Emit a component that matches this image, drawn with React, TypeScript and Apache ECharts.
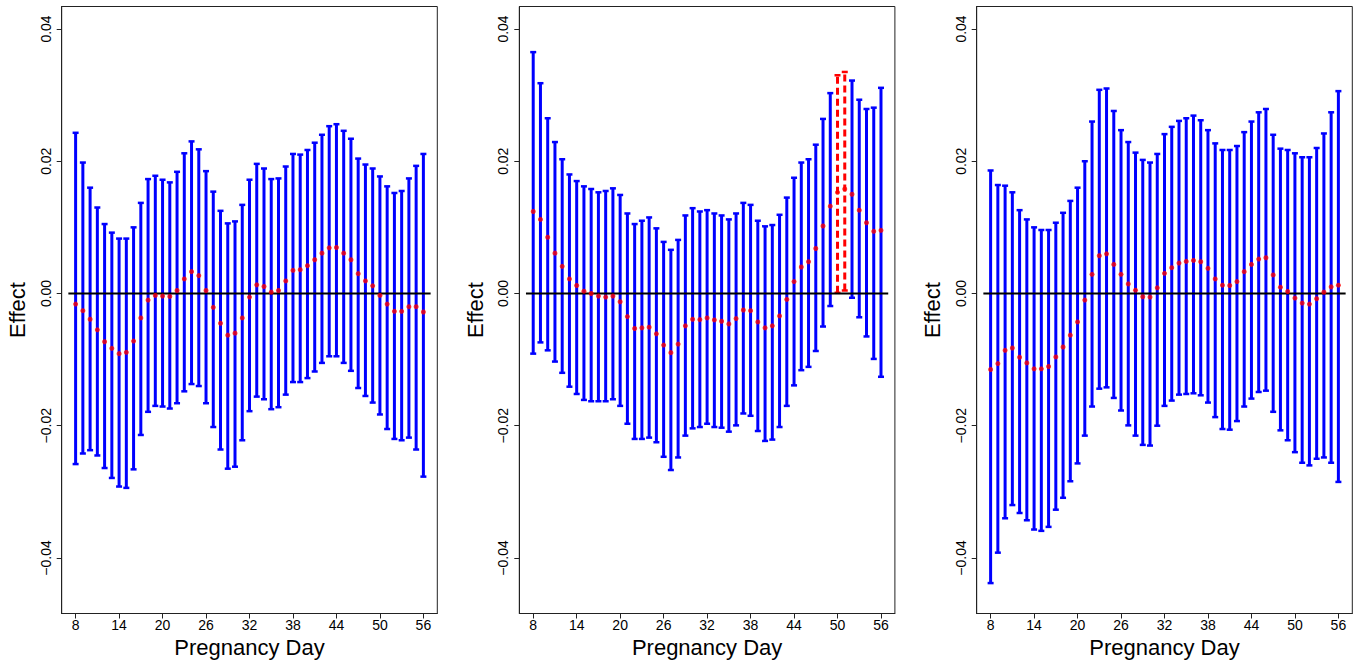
import React, { useEffect, useRef } from "react";
import * as echarts from "echarts";

// Pregnancy days (x categories)
const DAYS = [8, 9, 10, 11, 12, 13, 14, 15, 16, 17, 18, 19, 20, 21, 22, 23, 24, 25, 26, 27, 28, 29, 30, 31, 32,
  33, 34, 35, 36, 37, 38, 39, 40, 41, 42, 43, 44, 45, 46, 47, 48, 49, 50, 51, 52, 53, 54, 55, 56];

const X_TICKS = [8, 14, 20, 26, 32, 38, 44, 50, 56];
const Y_TICKS = [-0.04, -0.02, 0, 0.02, 0.04];

// Panel 1
const EST1 = [-0.0016, -0.0026, -0.0039, -0.0055, -0.0073, -0.0083, -0.0091, -0.0089, -0.0072, -0.0037, -0.0010, -0.0003,
  -0.0004, -0.00045, 0.00045, 0.0022, 0.0033, 0.0027, 0.00045, -0.0021, -0.0045, -0.0063, -0.0060, -0.0037, -0.00055,
  0.0013, 0.00105, 0.0002, 0.00045, 0.0019, 0.0035, 0.0036, 0.0042, 0.0051, 0.0061, 0.0069, 0.00695, 0.0061, 0.0051,
  0.0030, 0.0019, 0.00115, -0.0003, -0.0016, -0.0027, -0.0027, -0.0020, -0.0020, -0.0028];
const HI1 = [0.0243, 0.0198, 0.0160, 0.0130, 0.0105, 0.0092, 0.0083, 0.0083, 0.0100, 0.0137, 0.0173, 0.0178, 0.0172,
  0.0168, 0.0184, 0.0212, 0.0230, 0.0218, 0.0185, 0.0154, 0.0125, 0.0106, 0.0109, 0.0134, 0.0172, 0.0196, 0.0189,
  0.0173, 0.0174, 0.0192, 0.0211, 0.0210, 0.0217, 0.0228, 0.0240, 0.0253, 0.0256, 0.0246, 0.0234, 0.0204, 0.0195,
  0.0189, 0.0177, 0.0162, 0.0152, 0.0155, 0.0174, 0.0193, 0.0211];
const LO1 = [-0.0258, -0.0242, -0.0237, -0.0245, -0.0264, -0.0279, -0.0292, -0.0294, -0.0266, -0.0214, -0.0179, -0.0170,
  -0.0171, -0.0174, -0.0166, -0.0148, -0.0137, -0.0140, -0.0166, -0.0202, -0.0236, -0.0265, -0.0262, -0.0222, -0.0178,
  -0.0156, -0.0160, -0.0175, -0.0172, -0.0153, -0.0134, -0.0134, -0.0128, -0.0118, -0.0105, -0.0095, -0.0095, -0.0105,
  -0.0117, -0.0143, -0.0155, -0.0165, -0.0183, -0.0205, -0.0220, -0.0222, -0.0218, -0.0236, -0.0277];

// Panel 2
const EST2 = [0.0124, 0.0112, 0.0085, 0.0061, 0.0041, 0.0022, 0.0012, 0.00035, 0.0000, -0.0004, -0.00055, -0.0004,
  -0.00125, -0.0035, -0.0053, -0.0052, -0.0051, -0.0061, -0.0078, -0.00895, -0.00765, -0.0049, -0.0039, -0.00395,
  -0.0037, -0.0040, -0.0042, -0.0046, -0.0038, -0.0025, -0.0026, -0.0043, -0.0052, -0.0049, -0.0034, -0.0009, 0.0018,
  0.0040, 0.0048, 0.0068, 0.0102, 0.0132, 0.0153, 0.0158, 0.0150, 0.0126, 0.0107, 0.0094, 0.00955];
const HI2 = [0.0365, 0.0318, 0.0265, 0.0229, 0.0203, 0.0180, 0.0170, 0.0162, 0.0158, 0.0153, 0.0155, 0.0159, 0.0149,
  0.0121, 0.0105, 0.0110, 0.0115, 0.00985, 0.0078, 0.0066, 0.0081, 0.0118, 0.0129, 0.0124, 0.0126, 0.0121, 0.0118,
  0.0112, 0.0121, 0.0137, 0.0134, 0.0110, 0.01015, 0.01035, 0.0119, 0.0145, 0.0175, 0.0198, 0.0203, 0.0225, 0.0264,
  0.0303, 0.0330, 0.0335, 0.0322, 0.0293, 0.0279, 0.0281, 0.0311];
const LO2 = [-0.0091, -0.0074, -0.0086, -0.0103, -0.0120, -0.0141, -0.0152, -0.0161, -0.0163, -0.0163, -0.0163, -0.0160,
  -0.0170, -0.0197, -0.0220, -0.0220, -0.0218, -0.0225, -0.0247, -0.0267, -0.0248, -0.0215, -0.0204, -0.0202, -0.0197,
  -0.0202, -0.0203, -0.0209, -0.01995, -0.01815, -0.0185, -0.0208, -0.0223, -0.0221, -0.0202, -0.0170, -0.0139,
  -0.0116, -0.0111, -0.0087, -0.0050, -0.0019, 0.0001, 0.00045, -0.00065, -0.0036, -0.0065, -0.0099, -0.0126];
const DASHED_DAYS2 = [50, 51];

// Panel 3
const EST3 = [-0.0115, -0.0106, -0.0086, -0.00825, -0.00965, -0.0105, -0.0114, -0.0114, -0.01105, -0.0096, -0.0081,
  -0.0063, -0.0043, -0.0010, 0.0029, 0.0057, 0.0060, 0.0044, 0.0029, 0.00145, 0.0005, -0.0005, -0.00055, 0.00085,
  0.00305, 0.0039, 0.0046, 0.00485, 0.0050, 0.0048, 0.0038, 0.0022, 0.00125, 0.0012, 0.0018, 0.0033, 0.0044, 0.0052,
  0.0054, 0.0028, 0.00095, 0.0003, -0.0007, -0.00145, -0.0016, -0.0008, 0.0002, 0.0010, 0.00125];
const HI3 = [0.0186, 0.0164, 0.0163, 0.0153, 0.0126, 0.0112, 0.0100, 0.0096, 0.0096, 0.0107, 0.0122, 0.0140, 0.0160,
  0.0200, 0.0260, 0.0308, 0.0310, 0.0276, 0.0247, 0.0229, 0.0213, 0.0202, 0.0198, 0.0211, 0.0241, 0.0252, 0.0261,
  0.0265, 0.0269, 0.0262, 0.0247, 0.0227, 0.0217, 0.0217, 0.0223, 0.0244, 0.0260, 0.0274, 0.0279, 0.0240, 0.0219,
  0.0217, 0.0212, 0.0206, 0.0206, 0.0220, 0.0242, 0.0274, 0.0306];
const LO3 = [-0.0438, -0.0392, -0.0340, -0.0320, -0.0332, -0.0343, -0.0357, -0.0359, -0.0353, -0.0327, -0.0309, -0.0284,
  -0.0257, -0.0215, -0.0171, -0.0144, -0.0142, -0.0158, -0.0177, -0.01995, -0.0215, -0.0229, -0.0230, -0.0200, -0.0170,
  -0.0162, -0.0153, -0.0152, -0.0151, -0.0154, -0.0165, -0.0187, -0.0205, -0.0206, -0.0193, -0.0171, -0.0159, -0.0149,
  -0.0147, -0.0179, -0.0207, -0.0222, -0.0240, -0.0256, -0.0260, -0.0250, -0.0248, -0.0256, -0.0285];

const PANELS = [
  { est: EST1, lo: LO1, hi: HI1, dashed: [] as number[] },
  { est: EST2, lo: LO2, hi: HI2, dashed: DASHED_DAYS2 },
  { est: EST3, lo: LO3, hi: HI3, dashed: [] as number[] },
];

const REF_VALUE = 0;
const REF_FROM = 7;
const REF_TO = 57;

const X_MIN = 6.08;
const X_MAX = 57.92;
const Y_MIN = -0.0484;
const Y_MAX = 0.0434;

const FONT = "Liberation Sans, Arial, sans-serif";
const BLUE = "#0000ff";
const RED = "#ff0000";

function fmtY(v: number) {
  const s = Math.abs(v).toFixed(2);
  return v < -1e-9 ? "\u2212" + s : s;
}

function errorBarSeries(idx: number, data: number[][], color: string, dashed: boolean) {
  return {
    type: "custom",
    xAxisIndex: idx,
    yAxisIndex: idx,
    z: 2,
    encode: { x: 0, y: [1, 2] },
    data,
    renderItem: (_params: any, api: any) => {
      const x = api.value(0);
      const lo = api.coord([x, api.value(1)]);
      const hi = api.coord([x, api.value(2)]);
      const cap = 3;
      const bar: any = { stroke: color, lineWidth: 3 };
      if (dashed) bar.lineDash = [7, 4];
      const capStyle = { stroke: color, lineWidth: 2.5 };
      return {
        type: "group",
        children: [
          { type: "line", shape: { x1: lo[0], y1: lo[1], x2: hi[0], y2: hi[1] }, style: bar },
          { type: "line", shape: { x1: hi[0] - cap, y1: hi[1], x2: hi[0] + cap, y2: hi[1] }, style: capStyle },
          { type: "line", shape: { x1: lo[0] - cap, y1: lo[1], x2: lo[0] + cap, y2: lo[1] }, style: capStyle },
        ],
      };
    },
  };
}

export default function App() {
  const ref = useRef<HTMLDivElement>(null);
  useEffect(() => {
    if (!ref.current) return;
    const chart = echarts.init(ref.current, null, { renderer: "svg" });
    const lefts = [61.7, 519.3, 976.7];
    const width = 375.6;
    const top = 6.5;
    const height = 607;

    const grids = lefts.map((l) => ({
      left: l,
      top,
      width,
      height,
      show: true,
      borderColor: "#222",
      borderWidth: 1,
      backgroundColor: "transparent",
    }));

    const xAxes = lefts.map((_, i) => ({
      type: "value",
      gridIndex: i,
      min: X_MIN,
      max: X_MAX,
      name: "Pregnancy Day",
      nameLocation: "middle",
      nameGap: 23,
      nameTextStyle: { fontFamily: FONT, fontSize: 22, color: "#000" },
      axisLine: { show: true, onZero: false, lineStyle: { color: "#222", width: 1 } },
      axisTick: { show: true, length: 5, lineStyle: { color: "#222" }, customValues: X_TICKS },
      axisLabel: {
        show: true,
        customValues: X_TICKS,
        margin: 4,
        fontFamily: FONT,
        fontSize: 14,
        color: "#000",
        formatter: (v: number) => String(v),
      },
      splitLine: { show: false },
    }));

    const yAxes = lefts.map((_, i) => ({
      type: "value",
      gridIndex: i,
      min: Y_MIN,
      max: Y_MAX,
      name: "Effect",
      nameLocation: "middle",
      nameGap: 33,
      nameTextStyle: { fontFamily: FONT, fontSize: 22, color: "#000" },
      axisLine: { show: true, onZero: false, lineStyle: { color: "#222", width: 1 } },
      axisTick: { show: true, length: 5, lineStyle: { color: "#222" }, customValues: Y_TICKS },
      axisLabel: {
        show: true,
        customValues: Y_TICKS,
        rotate: 90,
        margin: 9,
        fontFamily: FONT,
        fontSize: 14,
        color: "#000",
        formatter: (v: number) => fmtY(v),
      },
      splitLine: { show: false },
    }));

    const series: any[] = [];
    PANELS.forEach((p, i) => {
      const solid: number[][] = [];
      const dash: number[][] = [];
      DAYS.forEach((d, k) => {
        const row = [d, p.lo[k], p.hi[k]];
        if (p.dashed.includes(d)) dash.push(row);
        else solid.push(row);
      });
      series.push(errorBarSeries(i, solid, BLUE, false));
      if (dash.length) series.push(errorBarSeries(i, dash, RED, true));
      series.push({
        type: "line",
        xAxisIndex: i,
        yAxisIndex: i,
        z: 3,
        symbol: "none",
        silent: true,
        lineStyle: { color: "#000", width: 2 },
        data: [
          [REF_FROM, REF_VALUE],
          [REF_TO, REF_VALUE],
        ],
      });
      series.push({
        type: "scatter",
        xAxisIndex: i,
        yAxisIndex: i,
        z: 4,
        symbol: "circle",
        symbolSize: 5,
        itemStyle: { color: RED },
        data: DAYS.map((d, k) => [d, p.est[k]]),
      });
    });

    chart.setOption({
      animation: false,
      backgroundColor: "#fff",
      textStyle: { fontFamily: FONT },
      grid: grids,
      xAxis: xAxes,
      yAxis: yAxes,
      series,
    });
    return () => chart.dispose();
  }, []);

  return (
    <div
      ref={ref}
      style={{ position: "absolute", left: 0, top: 0, width: 1361, height: 665, background: "#fff" }}
    />
  );
}
